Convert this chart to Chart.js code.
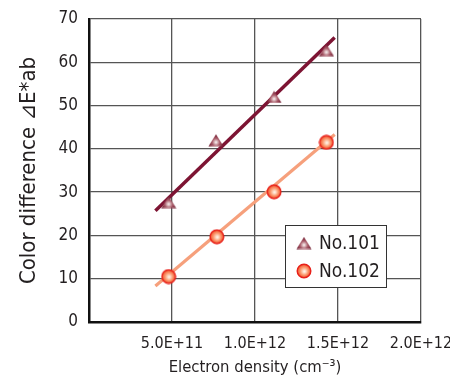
<!DOCTYPE html>
<html><head><meta charset="utf-8">
<script src="https://cdn.jsdelivr.net/npm/chart.js@4/dist/chart.umd.min.js"></script>
<style>html,body{margin:0;padding:0;background:#fff}#wrap{width:450px;height:381px}</style>
</head><body><div id="wrap"><canvas id="c" width="450" height="381"></canvas></div>
<script>
const seriesNames = ['No.101', 'No.102'];
const x101 = [4.8e11, 7.65e11, 1.115e12, 1.43e12];
const y101 = [27.7, 42.0, 52.0, 62.8];
const x102 = [4.8e11, 7.7e11, 1.115e12, 1.43e12];
const y102 = [10.5, 19.7, 30.1, 41.5];
const fitX = [4.0e11, 1.48e12];
const fit101 = [25.7, 65.7];
const fit102 = [8.3, 43.3];
const xTicks = [0, 5e11, 1e12, 1.5e12, 2e12];

const FONT = "'Liberation Sans Narrow','DejaVu Sans Condensed','Liberation Sans',sans-serif";
const TXT = '#231f20';

function triImg(){
  const c = document.createElement('canvas'); c.width = 16; c.height = 13;
  const g = c.getContext('2d');
  const gr = g.createRadialGradient(8, 8.5, 0.5, 8, 8.5, 8);
  gr.addColorStop(0, '#f3e6e6'); gr.addColorStop(0.45, '#a85a68'); gr.addColorStop(1, '#6e1a2e');
  g.beginPath(); g.moveTo(8, 0.5); g.lineTo(15.5, 12.5); g.lineTo(0.5, 12.5); g.closePath();
  g.fillStyle = gr; g.fill();
  return c;
}
function circImg(){
  const c = document.createElement('canvas'); c.width = 16; c.height = 16;
  const g = c.getContext('2d');
  const gr = g.createRadialGradient(8.5, 8.5, 0.5, 8, 8, 7);
  gr.addColorStop(0, '#fff2e6'); gr.addColorStop(0.5, '#fb9c72'); gr.addColorStop(1, '#f04a22');
  g.beginPath(); g.arc(8, 8, 6.8, 0, Math.PI * 2);
  g.fillStyle = gr; g.fill(); g.lineWidth = 1.4; g.strokeStyle = '#e8201a'; g.stroke();
  return c;
}
const TRI = triImg(), CIRC = circImg();

const pts = (xs, ys) => xs.map((x, i) => ({x, y: ys[i]}));

const legendPlugin = {
  id: 'boxLegend',
  afterDraw(chart){
    const ctx = chart.ctx;
    ctx.save();
    const bx = 285.5, by = 225.5, bw = 101, bh = 62;
    ctx.fillStyle = '#fff'; ctx.fillRect(bx, by, bw, bh);
    ctx.strokeStyle = '#333'; ctx.lineWidth = 1; ctx.strokeRect(bx, by, bw, bh);
    const imgs = [TRI, CIRC];
    const ys = [243, 271];
    ctx.font = '19px ' + FONT; ctx.fillStyle = TXT; ctx.textBaseline = 'middle';
    seriesNames.forEach((n, i) => {
      const im = imgs[i];
      ctx.drawImage(im, 304 - im.width / 2, ys[i] - im.height / 2);
      ctx.fillText(n, 319, ys[i] + 1);
    });
    ctx.restore();
  }
};

new Chart(document.getElementById('c'), {
  type: 'scatter',
  data: {
    datasets: [
      {label: seriesNames[0], data: pts(x101, y101), pointStyle: TRI, pointRadius: 8, showLine: false, order: 1},
      {label: seriesNames[1], data: pts(x102, y102), pointStyle: CIRC, pointRadius: 8, showLine: false, order: 1},
      {label: 'fit101', data: pts(fitX, fit101), showLine: true, pointRadius: 0, borderColor: '#7d1433', borderWidth: 3.5, order: 2},
      {label: 'fit102', data: pts(fitX, fit102), showLine: true, pointRadius: 0, borderColor: '#f6a07c', borderWidth: 3.2, order: 2}
    ]
  },
  options: {
    responsive: false, animation: false,
    layout: {padding: {top: 19, right: 29, left: 0, bottom: 0}},
    plugins: {legend: {display: false}, tooltip: {enabled: false}},
    scales: {
      x: {
        type: 'linear', min: 0, max: 2e12,
        afterBuildTicks: s => { s.ticks = xTicks.map(v => ({value: v})); },
        afterFit: s => { s.height = 59; s.paddingLeft = 0; s.paddingRight = 0; },
        grid: {color: '#555', lineWidth: 1.3, drawTicks: false},
        border: {color: '#111', width: 2.5},
        ticks: {padding: 12, color: TXT, font: {family: FONT, size: 16},
          callback: v => v === 0 ? '' : Number(v).toExponential(1).toUpperCase()},
        title: {display: true, text: 'Electron density (cm⁻³)', color: TXT,
          font: {family: FONT, size: 16.5}, padding: {top: 0, bottom: 3}}
      },
      y: {
        min: 0, max: 70,
        afterFit: s => { s.width = 89; s.paddingTop = 0; s.paddingBottom = 0; },
        grid: {color: '#555', lineWidth: 1.3, drawTicks: false},
        border: {color: '#111', width: 2.5},
        ticks: {stepSize: 10, padding: 11, color: TXT, font: {family: FONT, size: 17}},
        title: {display: true, text: 'Color difference ⊿E*ab', color: TXT,
          font: {family: FONT, size: 22}, padding: {top: 16, bottom: 0}}
      }
    }
  },
  plugins: [legendPlugin]
});
</script></body></html>
